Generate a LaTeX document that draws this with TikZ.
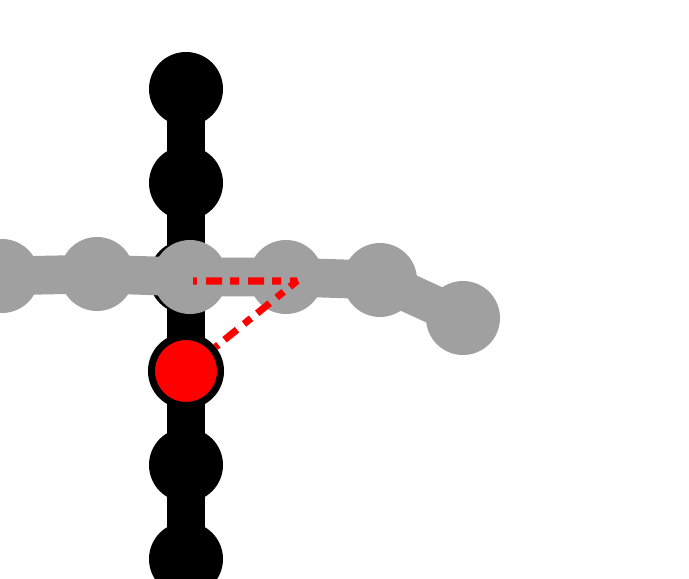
\documentclass[tikz,border=0pt]{standalone}
\usetikzlibrary{positioning}
\definecolor{chaingray}{RGB}{160,160,160}
\begin{document}
\begin{tikzpicture}[
    x=0.03cm, y=-0.03cm,
    bead/.style={circle, inner sep=0pt, minimum size=2.22cm},
    blackbead/.style={bead, fill=black},
    graybead/.style={bead, fill=chaingray},
    redbead/.style={circle, inner sep=0pt, minimum size=2.07cm, fill=red, draw=black, line width=6pt},
    blackbar/.style={line width=33pt, black},
    graybar/.style={line width=33pt, chaingray},
    offset/.style={red, line width=6pt, line join=bevel, dash pattern=on 13.7pt off 6.8pt on 7.7pt off 7.7pt, dash phase=24.8pt},
  ]
    \useasboundingbox (0,0) rectangle (689,579);
    \clip (0,0) rectangle (689,579);

    % vertical chain
    \node[blackbead] (b1) at (186,89) {};
    \node[blackbead] (b2) at (186,183) {};
    \node[blackbead] (b3) at (186,277) {};
    \node[blackbead] (b5) at (186,465) {};
    \node[blackbead] (b6) at (186,559) {};
    \draw[blackbar] (b1.center) -- (b6.center);
    \node[redbead] (r) at (186,371) {};

    % horizontal chain
    \draw[graybar] (2,276) -- (97,274) -- (190,277) -- (286,277) -- (380,280) -- (463,318);
    \node[graybead] (g1) at (2,276) {};
    \node[graybead] (g2) at (97,274) {};
    \node[graybead] (g3) at (190,277) {};
    \node[graybead] (g4) at (286,277) {};
    \node[graybead] (g5) at (380,280) {};
    \node[graybead] (g6) at (463,318) {};

    % offset
    \coordinate (o) at (193,281);
    \coordinate (k) at (297,281);
    \draw[offset] (o) -- (k) -- (r);
\end{tikzpicture}
\end{document}
